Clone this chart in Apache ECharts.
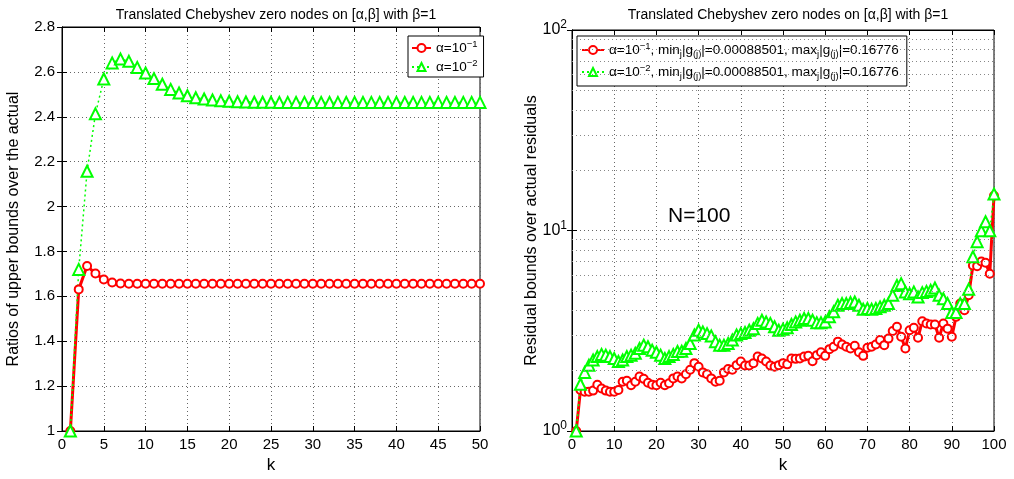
<!DOCTYPE html>
<html>
<head>
<meta charset="utf-8">
<script src="https://cdn.jsdelivr.net/npm/echarts@6.0.0/dist/echarts.min.js"></script>
<style>
  html, body { margin: 0; padding: 0; background: #fff; }
  #chart { width: 1014px; height: 479px; }
</style>
</head>
<body>
<div id="chart"></div>
<script>
// left plot: ratios, k = 1..50
const ratioA1 = [
  1.000, 1.631, 1.735, 1.702, 1.675, 1.662, 1.657, 1.656, 1.656, 1.656,
  1.656, 1.656, 1.656, 1.656, 1.656, 1.656, 1.656, 1.656, 1.656, 1.656,
  1.656, 1.656, 1.656, 1.656, 1.656, 1.656, 1.656, 1.656, 1.656, 1.656,
  1.656, 1.656, 1.656, 1.656, 1.656, 1.656, 1.656, 1.656, 1.656, 1.656,
  1.656, 1.656, 1.656, 1.656, 1.656, 1.656, 1.656, 1.656, 1.656, 1.656
]
const ratioA2 = [
  1.000, 1.720, 2.157, 2.413, 2.568, 2.640, 2.657, 2.647, 2.620, 2.595,
  2.570, 2.545, 2.522, 2.506, 2.494, 2.485, 2.479, 2.475, 2.471, 2.469,
  2.467, 2.466, 2.465, 2.465, 2.465, 2.464, 2.464, 2.464, 2.464, 2.464,
  2.464, 2.464, 2.464, 2.464, 2.464, 2.464, 2.464, 2.464, 2.464, 2.464,
  2.464, 2.464, 2.464, 2.464, 2.464, 2.464, 2.464, 2.464, 2.464, 2.464
]
// right plot: residual bounds / actual residuals, k = 1..100
const resA1 = [
  1.00, 1.60, 1.57, 1.57, 1.59, 1.70, 1.63, 1.59, 1.57, 1.57,
  1.60, 1.76, 1.78, 1.69, 1.76, 1.87, 1.82, 1.74, 1.70, 1.69,
  1.74, 1.69, 1.73, 1.83, 1.87, 1.83, 1.92, 2.02, 2.18, 2.09,
  1.96, 1.92, 1.83, 1.76, 1.78, 1.96, 2.04, 2.02, 2.13, 2.22,
  2.12, 2.12, 2.18, 2.35, 2.30, 2.22, 2.12, 2.09, 2.13, 2.18,
  2.15, 2.30, 2.29, 2.30, 2.35, 2.37, 2.23, 2.39, 2.47, 2.37,
  2.56, 2.63, 2.79, 2.70, 2.63, 2.58, 2.66, 2.47, 2.37, 2.60,
  2.63, 2.70, 2.84, 2.68, 2.89, 3.15, 3.31, 2.95, 2.58, 3.18,
  3.27, 2.92, 3.53, 3.44, 3.40, 3.40, 2.92, 3.44, 3.24, 2.95,
  3.71, 4.32, 4.00, 4.75, 6.69, 6.64, 7.00, 6.90, 6.08, 14.9
]
const resA2 = [
  1.00, 1.71, 1.96, 2.13, 2.26, 2.35, 2.41, 2.39, 2.35, 2.30,
  2.22, 2.26, 2.35, 2.39, 2.44, 2.58, 2.68, 2.63, 2.53, 2.47,
  2.39, 2.30, 2.35, 2.41, 2.49, 2.50, 2.58, 2.73, 3.01, 3.18,
  3.12, 3.06, 2.98, 2.79, 2.68, 2.68, 2.73, 2.84, 3.01, 3.06,
  3.10, 3.18, 3.24, 3.44, 3.57, 3.50, 3.44, 3.31, 3.18, 3.22,
  3.27, 3.40, 3.50, 3.57, 3.64, 3.64, 3.57, 3.47, 3.47, 3.50,
  3.71, 3.93, 4.24, 4.32, 4.32, 4.37, 4.40, 4.24, 4.05, 4.08,
  4.05, 4.08, 4.16, 4.24, 4.32, 4.75, 5.32, 5.43, 4.94, 4.84,
  4.94, 4.66, 4.90, 4.97, 5.03, 5.17, 4.75, 4.57, 4.32, 3.90,
  3.90, 4.32, 4.32, 5.09, 7.40, 8.80, 9.97, 11.06, 9.97, 15.2
]
const logMinorTicks = [2, 3, 4, 5, 6, 7, 8, 9, 20, 30, 40, 50, 60, 70, 80, 90]

const titleText = 'Translated Chebyshev zero nodes on [α,β] with β=1'
const legendNames = {
  L1: '{t|α=10}{sup|−1}',
  L2: '{t|α=10}{sup|−2}',
  R1: '{t|α=10}{sup|−1}{t|, min}{sub|j}{t||g}{sub|(j)}{t||=0.00088501, max}{sub|j}{t||g}{sub|(j)}{t||=0.16776}',
  R2: '{t|α=10}{sup|−2}{t|, min}{sub|j}{t||g}{sub|(j)}{t||=0.00088501, max}{sub|j}{t||g}{sub|(j)}{t||=0.16776}'
}

const font = 'Liberation Sans, Arial, Helvetica, sans-serif'
const red = '#ff0000'
const green = '#00ff00'

const toPairs = arr => arr.map((v, i) => [i + 1, v])

const dotted = { show: true, lineStyle: { color: '#666', type: [1, 3], width: 1 } }
const blackLine = { show: true, lineStyle: { color: '#000', width: 1 } }
const tickIn = { show: true, inside: true, length: 5, lineStyle: { color: '#000' } }
const lbl = { color: '#000', fontSize: 15, fontFamily: font }

const legendRich = {
  t: { fontSize: 13.5, fontFamily: font, color: '#000' },
  sup: { fontSize: 9.5, fontFamily: font, color: '#000', verticalAlign: 'top', padding: [0, 0, 8, 0] },
  sub: { fontSize: 9.5, fontFamily: font, color: '#000', verticalAlign: 'bottom', padding: [8, 0, 0, 0] }
}

const myChart = echarts.init(document.getElementById('chart'))

const option = {
  animation: false,
  backgroundColor: '#fff',
  title: [
    { text: titleText, left: 271, top: 3, textAlign: 'center',
      textStyle: { fontSize: 14, fontWeight: 'normal', color: '#000', fontFamily: font } },
    { text: titleText, left: 783, top: 3, textAlign: 'center',
      textStyle: { fontSize: 14, fontWeight: 'normal', color: '#000', fontFamily: font } }
  ],
  legend: [
    {
      data: ['L1', 'L2'], left: 408, top: 36, orient: 'vertical',
      itemWidth: 19, itemHeight: 10, itemGap: 3,
      padding: [3, 6, 3, 3], backgroundColor: '#fff', borderColor: '#000', borderWidth: 1, borderRadius: 0,
      formatter: n => legendNames[n], textStyle: { rich: legendRich }
    },
    {
      data: ['R1', 'R2'], left: 577, top: 36, orient: 'vertical',
      itemWidth: 22, itemHeight: 10, itemGap: 4,
      padding: [5, 8, 5, 4], backgroundColor: '#fff', borderColor: '#000', borderWidth: 1, borderRadius: 0,
      formatter: n => legendNames[n], textStyle: { rich: legendRich }
    }
  ],
  grid: [
    { left: 62, top: 27, width: 418, height: 406, show: true, borderColor: '#000', borderWidth: 1 },
    { left: 572, top: 30, width: 422, height: 403, show: true, borderColor: '#000', borderWidth: 1 }
  ],
  xAxis: [
    { gridIndex: 0, type: 'value', min: 0, max: 50, interval: 5, name: 'k', nameLocation: 'middle', nameGap: 26,
      nameTextStyle: { fontSize: 17, fontFamily: font, color: '#000' },
      axisLine: blackLine, axisTick: tickIn, axisLabel: { ...lbl, margin: 6 }, splitLine: dotted },
    { gridIndex: 0, type: 'value', position: 'top', min: 0, max: 50, interval: 5,
      axisLine: blackLine, axisTick: tickIn, axisLabel: { show: false }, splitLine: { show: false } },
    { gridIndex: 1, type: 'value', min: 0, max: 100, interval: 10, name: 'k', nameLocation: 'middle', nameGap: 26,
      nameTextStyle: { fontSize: 17, fontFamily: font, color: '#000' },
      axisLine: blackLine, axisTick: tickIn, axisLabel: { ...lbl, margin: 6 }, splitLine: dotted },
    { gridIndex: 1, type: 'value', position: 'top', min: 0, max: 100, interval: 10,
      axisLine: blackLine, axisTick: tickIn, axisLabel: { show: false }, splitLine: { show: false } }
  ],
  yAxis: [
    { gridIndex: 0, type: 'value', min: 1, max: 2.8, interval: 0.2,
      name: 'Ratios of upper bounds over the actual', nameLocation: 'middle', nameGap: 40, nameMoveOverlap: false,
      nameTextStyle: { fontSize: 16, fontFamily: font, color: '#000' },
      axisLine: blackLine, axisTick: tickIn, axisLabel: { ...lbl, margin: 7 }, splitLine: dotted },
    { gridIndex: 0, type: 'value', position: 'right', min: 1, max: 2.8, interval: 0.2,
      axisLine: blackLine, axisTick: tickIn, axisLabel: { show: false }, splitLine: { show: false } },
    { gridIndex: 1, type: 'log', logBase: 10, min: 1, max: 100,
      name: 'Residual bounds over actual residuals', nameLocation: 'middle', nameGap: 32, nameMoveOverlap: false,
      nameTextStyle: { fontSize: 16, fontFamily: font, color: '#000' },
      axisLine: blackLine, axisTick: tickIn, splitLine: dotted,
      axisLabel: {
        margin: 5,
        formatter: v => '{b|10}{s|' + Math.round(Math.log10(v)) + '}',
        rich: {
          b: { fontSize: 16, fontFamily: font, color: '#000' },
          s: { fontSize: 12, fontFamily: font, color: '#000', verticalAlign: 'top', padding: [0, 0, 10, 0] }
        }
      } },
    { gridIndex: 1, type: 'log', logBase: 10, min: 1, max: 100, position: 'right',
      axisLine: blackLine, axisTick: tickIn, axisLabel: { show: false }, splitLine: { show: false } }
  ],
  graphic: [
    { type: 'text', left: 668, top: 206,
      style: { text: 'N=100', fontSize: 21, fontFamily: font, fill: '#000' } }
  ],
  series: [
    { name: 'L1', type: 'line', xAxisIndex: 0, yAxisIndex: 0, data: toPairs(ratioA1),
      symbol: 'emptyCircle', symbolSize: 8,
      lineStyle: { color: red, width: 3 }, itemStyle: { color: red, borderColor: red, borderWidth: 2.5 } },
    { name: 'L2', type: 'line', xAxisIndex: 0, yAxisIndex: 0, data: toPairs(ratioA2),
      symbol: 'emptyTriangle', symbolSize: 11,
      lineStyle: { color: green, width: 1.5, type: [2, 3] }, itemStyle: { color: green, borderColor: green, borderWidth: 3 } },
    { name: 'R1', type: 'line', xAxisIndex: 2, yAxisIndex: 2, data: toPairs(resA1),
      symbol: 'emptyCircle', symbolSize: 8,
      lineStyle: { color: red, width: 3 }, itemStyle: { color: red, borderColor: red, borderWidth: 2.5 },
      markLine: {
        silent: true, symbol: 'none', label: { show: false },
        lineStyle: { color: '#888', type: [1, 3], width: 1 },
        data: logMinorTicks.map(v => ({ yAxis: v }))
      } },
    { name: 'R2', type: 'line', xAxisIndex: 2, yAxisIndex: 2, data: toPairs(resA2),
      symbol: 'emptyTriangle', symbolSize: 11,
      lineStyle: { color: green, width: 1.5, type: [2, 3] }, itemStyle: { color: green, borderColor: green, borderWidth: 3 } }
  ]
}

myChart.setOption(option)
</script>
</body>
</html>
